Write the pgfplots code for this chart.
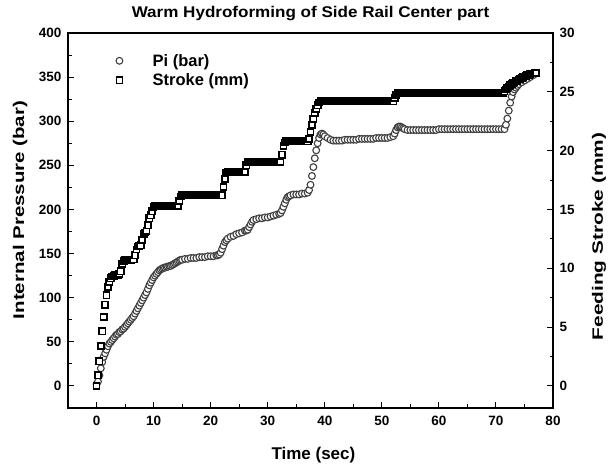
\documentclass[border=0pt]{standalone}
\usepackage{fontspec}
\setmainfont{Liberation Sans}
\usepackage{pgfplots}
\pgfplotsset{compat=1.18}
\begin{document}
\begin{tikzpicture}[x=1pt,y=1pt]
\path[use as bounding box] (0,0) rectangle (615,468);
\pgfplotsset{
  common/.style={
    scale only axis, width=485pt, height=375pt,
    at={(68pt,60pt)}, anchor=south west,
    xmin=-5, xmax=80,
    axis line style={line width=1.4pt},
    tick style={line width=1pt, black},
    major tick length=6pt, minor tick length=3.5pt,
    tick align=inside,
    /pgf/number format/assume math mode=true,
    tick label style={font=\fontsize{13.5}{14}\selectfont\bfseries},
  },
  pstyle/.style={only marks, mark=*, mark size=3.4pt, mark options={draw=black!75, fill=white, line width=1.1pt}},
  sstyle/.style={only marks, mark=square*, mark size=3.1pt, mark options={draw=black, fill=white, line width=1.6pt}},
}
\begin{axis}[common,
  ymin=-25, ymax=400,
  xtick={0,10,...,80}, minor x tick num=1,
  ytick={0,50,...,400}, minor y tick num=1,
  xtick pos=lower, ytick pos=left,
  yticklabel style={xshift=-3pt},
  xticklabel style={yshift=-5pt},
  title={\scalebox{1.1}[1]{Warm Hydroforming of Side Rail Center part}},
  title style={at={(axis description cs:0.5,1.026)}, anchor=base, font=\fontsize{15.5}{16}\selectfont\bfseries, inner sep=0pt},
  xlabel={Time (sec)},
  xlabel style={at={(axis description cs:0.506,-0.137)}, anchor=base, font=\fontsize{17}{18}\selectfont\bfseries, inner sep=0pt},
  ylabel={\scalebox{1.32}[1]{Internal Pressure (bar)}},
  ylabel style={at={(axis description cs:-0.0907,0.528)}, anchor=base, font=\fontsize{15.5}{16}\selectfont\bfseries, inner sep=0pt},
]
\addplot[pstyle] coordinates {
(0,2) (0.25,5) (0.5,12) (0.75,20) (1,27) (1.25,33) (1.5,37) (1.75,41) (2,45) (2.25,48) (2.5,50) (2.75,52) (3,54) (3.25,56) (3.5,58) (3.75,59) (4,61) (4.25,62) (4.5,64) (4.75,65) (5,67) (5.25,69) (5.5,71) (5.75,73) (6,75) (6.25,77) (6.5,79) (6.75,82) (7,85) (7.25,88) (7.5,91) (7.75,94) (8,97) (8.25,100) (8.5,103) (8.75,106) (9,110) (9.25,114) (9.5,117) (9.75,120) (10,123) (10.25,125) (10.5,127) (10.75,129) (11,131) (11.25,132) (11.5,133) (11.75,134) (12,134) (12.25,135) (12.5,135) (12.75,136) (13,136) (13.25,137) (13.5,138) (13.75,139) (14,140) (14.25,141) (14.5,142) (14.75,143) (15,143) (15.5,144) (16,144) (16.5,145) (17,145) (17.5,145) (18,146) (18.5,146) (19,146) (19.5,147) (20,147) (20.5,147) (21,148) (21.25,148) (21.5,149) (21.75,151) (22,155) (22.25,159) (22.5,163) (22.75,165) (23,167) (23.5,169) (24,170) (24.5,172) (25,173) (25.5,174) (26,176) (26.25,176) (26.5,177) (26.75,180) (27,183) (27.25,186) (27.5,188) (28,189) (28.5,190) (29,190) (29.5,191) (30,191) (30.5,192) (31,193) (31.5,194) (32,195) (32.25,196) (32.5,199) (32.75,203) (33,207) (33.25,211) (33.5,214) (33.75,215) (34,216) (34.5,217) (35,217) (35.5,217) (36,218) (36.5,218) (37,219) (37.25,222) (37.5,228) (37.75,238) (38,248) (38.25,258) (38.5,267) (38.75,275) (39,281) (39.25,285) (39.5,286) (39.75,285) (40,283) (40.5,281) (41,279) (41.5,278) (42,278) (42.5,278) (43,278) (43.5,279) (44,279) (44.5,279) (45,279) (45.5,279) (46,280) (46.5,280) (47,280) (47.5,280) (48,280) (48.5,280) (49,281) (49.5,281) (50,281) (50.5,281) (51,281) (51.5,282) (52,283) (52.25,286) (52.5,290) (52.75,293) (53,294) (53.25,294) (53.5,293) (53.75,292) (54,291) (54.5,290) (55,290) (55.5,290) (56,290) (56.5,290) (57,290) (57.5,290) (58,290) (58.5,290) (59,290) (59.5,290) (60,291) (60.5,291) (61,291) (61.5,291) (62,291) (62.5,291) (63,291) (63.5,291) (64,291) (64.5,291) (65,291) (65.5,291) (66,291) (66.5,291) (67,291) (67.5,291) (68,291) (68.5,291) (69,291) (69.5,291) (70,291) (70.5,291) (71,291) (71.5,291) (71.75,296) (72,303) (72.25,312) (72.5,321) (72.75,328) (73,333) (73.25,336) (73.5,338) (73.75,340) (74,342) (74.5,344) (75,346) (75.5,348) (76,350) (76.5,352) (77,354)
};
\end{axis}
\begin{axis}[common,
  ymin=-1.875, ymax=30,
  axis x line=none, axis y line*=right,
  ytick={0,5,...,30}, minor y tick num=1,
  ytick pos=right,
  yticklabel style={xshift=3pt},
  ylabel={\scalebox{1.39}[1]{Feeding Stroke (mm)}},
  ylabel style={at={(axis description cs:1.103,0.457)}, anchor=base, font=\fontsize{15}{16}\selectfont\bfseries, inner sep=0pt},
  legend cell align=left,
  legend image code/.code={\draw[#1] plot coordinates {(0pt,0pt)}; \path (-4pt,0pt) (32pt,0pt);},
  legend style={at={(axis description cs:0.097,0.947)}, anchor=north west, draw=none, fill=none, inner sep=0pt, row sep=4pt, nodes={inner sep=1pt}, font=\fontsize{16.5}{18}\selectfont\bfseries},
]
\addlegendimage{pstyle}
\addlegendentry{Pi (bar)}
\addplot[sstyle] coordinates {
(0,0) (0.25,0.9) (0.5,2.1) (0.75,3.4) (1,4.65) (1.25,5.85) (1.5,6.9) (1.75,7.7) (2,8.4) (2.25,8.85) (2.5,9.15) (2.75,9.3) (3,9.35) (3.25,9.4) (3.5,9.4) (3.75,9.45) (4,9.5) (4.25,9.75) (4.5,10.35) (4.75,10.65) (5,10.7) (5.25,10.7) (5.5,10.7) (5.75,10.7) (6,10.7) (6.25,10.75) (6.5,10.75) (6.75,11.1) (7,11.6) (7.25,11.85) (7.5,11.9) (7.75,11.95) (8,12.4) (8.25,12.9) (8.5,13.05) (8.75,13.2) (9,13.65) (9.25,14.25) (9.5,14.5) (9.75,14.85) (10,15.2)
(10.25,15.3) (10.5,15.3) (10.75,15.3) (11,15.3) (11.25,15.3) (11.5,15.3) (11.75,15.3) (12,15.3) (12.25,15.3) (12.5,15.3) (12.75,15.3) (13,15.3) (13.25,15.3) (13.5,15.3) (13.75,15.3) (14,15.3) (14.25,15.3) (14.5,15.75) (14.75,16.1)
(15,16.2) (15.25,16.2) (15.5,16.2) (15.75,16.2) (16,16.2) (16.25,16.2) (16.5,16.2) (16.75,16.2) (17,16.2) (17.25,16.2) (17.5,16.2) (17.75,16.2) (18,16.2) (18.25,16.2) (18.5,16.2) (18.75,16.2) (19,16.2) (19.25,16.2) (19.5,16.2) (19.75,16.2) (20,16.2) (20.25,16.2) (20.5,16.2) (20.75,16.2) (21,16.2) (21.25,16.2) (21.5,16.2) (21.75,16.2) (22,16.2)
(22.25,16.9) (22.5,17.6) (22.75,18.15) (23,18.2) (23.25,18.2) (23.5,18.2) (23.75,18.2) (24,18.2) (24.25,18.2) (24.5,18.2) (24.75,18.2) (25,18.2) (25.25,18.2) (25.5,18.2) (25.75,18.2) (26,18.2)
(26.25,18.75) (26.5,19.05) (26.75,19.05) (27,19.05) (27.25,19.05) (27.5,19.05) (27.75,19.05) (28,19.05) (28.25,19.05) (28.5,19.05) (28.75,19.05) (29,19.05) (29.25,19.05) (29.5,19.05) (29.75,19.05) (30,19.05) (30.25,19.05) (30.5,19.05) (30.75,19.05) (31,19.05) (31.25,19.05) (31.5,19.05) (31.75,19.05) (32,19.05) (32.25,19.05)
(32.5,19.65) (32.75,20.4) (33,20.7) (33.25,20.8) (33.5,20.8) (33.75,20.8) (34,20.8) (34.25,20.8) (34.5,20.8) (34.75,20.8) (35,20.8) (35.25,20.8) (35.5,20.8) (35.75,20.8) (36,20.8) (36.25,20.8) (36.5,20.8) (36.75,20.8) (37,20.8)
(37.25,21.0) (37.5,21.6) (37.75,22.2) (38,22.7) (38.25,23.2) (38.5,23.55) (38.75,23.85) (39,24.1)
(39.25,24.2) (39.5,24.2) (39.75,24.2) (40,24.2) (40.25,24.2) (40.5,24.2) (40.75,24.2) (41,24.2) (41.25,24.2) (41.5,24.2) (41.75,24.2) (42,24.2) (42.25,24.2) (42.5,24.2) (42.75,24.2) (43,24.2) (43.25,24.2) (43.5,24.2) (43.75,24.2) (44,24.2) (44.25,24.2) (44.5,24.2) (44.75,24.2) (45,24.2) (45.25,24.2) (45.5,24.2) (45.75,24.2) (46,24.2) (46.25,24.2) (46.5,24.2) (46.75,24.2) (47,24.2) (47.25,24.2) (47.5,24.2) (47.75,24.2) (48,24.2) (48.25,24.2) (48.5,24.2) (48.75,24.2) (49,24.2) (49.25,24.2) (49.5,24.2) (49.75,24.2) (50,24.2) (50.25,24.2) (50.5,24.2) (50.75,24.2) (51,24.2) (51.25,24.2) (51.5,24.2) (51.75,24.2) (52,24.2)
(52.25,24.5) (52.5,24.75) (52.75,24.9) (53,24.9) (53.25,24.9) (53.5,24.9) (53.75,24.9) (54,24.9) (54.25,24.9) (54.5,24.9) (54.75,24.9) (55,24.9) (55.25,24.9) (55.5,24.9) (55.75,24.9) (56,24.9) (56.25,24.9) (56.5,24.9) (56.75,24.9) (57,24.9) (57.25,24.9) (57.5,24.9) (57.75,24.9) (58,24.9) (58.25,24.9) (58.5,24.9) (58.75,24.9) (59,24.9) (59.25,24.9) (59.5,24.9) (59.75,24.9) (60,24.9) (60.25,24.9) (60.5,24.9) (60.75,24.9) (61,24.9) (61.25,24.9) (61.5,24.9) (61.75,24.9) (62,24.9) (62.25,24.9) (62.5,24.9) (62.75,24.9) (63,24.9) (63.25,24.9) (63.5,24.9) (63.75,24.9) (64,24.9) (64.25,24.9) (64.5,24.9) (64.75,24.9) (65,24.9) (65.25,24.9) (65.5,24.9) (65.75,24.9) (66,24.9) (66.25,24.9) (66.5,24.9) (66.75,24.9) (67,24.9) (67.25,24.9) (67.5,24.9) (67.75,24.9) (68,24.9) (68.25,24.9) (68.5,24.9) (68.75,24.9) (69,24.9) (69.25,24.9) (69.5,24.9) (69.75,24.9) (70,24.9) (70.25,24.9) (70.5,24.9) (70.75,24.9) (71,24.9) (71.25,24.9)
(71.5,25.05) (71.75,25.2) (72,25.35) (72.25,25.45) (72.5,25.55) (72.75,25.65) (73,25.75) (73.25,25.8) (73.5,25.9) (73.75,25.95) (74,26.05) (74.25,26.1) (74.5,26.2) (74.75,26.25) (75,26.3) (75.25,26.35) (75.5,26.4) (75.75,26.45) (76,26.5) (76.25,26.55) (76.5,26.55) (76.75,26.6) (77,26.6)
};
\addlegendentry{Stroke (mm)}
\end{axis}
\end{tikzpicture}
\end{document}
